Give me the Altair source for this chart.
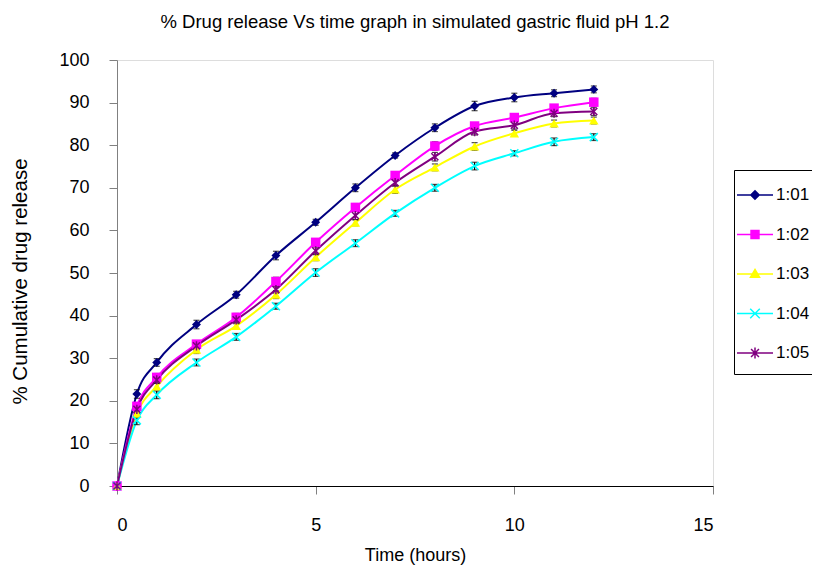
import altair as alt
import pandas as pd

time_h = [0, 0.5, 1, 2, 3, 4, 5, 6, 7, 8, 9, 10, 11, 12]
series_names = ["1:01", "1:02", "1:03", "1:04", "1:05"]

rel_101 = [0, 21.6, 29.0, 37.9, 44.9, 54.1, 61.9, 70.0, 77.6, 84.1, 89.2, 91.2, 92.2, 93.1]
rel_102 = [0, 18.7, 25.5, 33.3, 39.6, 48.0, 57.2, 65.4, 72.9, 79.8, 84.5, 86.5, 88.7, 90.1]
rel_103 = [0, 17.0, 23.4, 32.0, 37.6, 44.9, 53.7, 61.8, 69.6, 74.8, 79.7, 82.8, 85.1, 85.8]
rel_104 = [0, 15.4, 21.4, 29.0, 35.0, 42.2, 50.1, 57.0, 64.0, 70.0, 75.1, 78.1, 80.8, 81.9]
rel_105 = [0, 18.0, 24.9, 32.9, 39.0, 46.1, 55.2, 63.5, 71.2, 77.3, 83.2, 84.7, 87.5, 87.9]

err_101 = [0, 1.0, 0.9, 1.0, 0.8, 1.0, 0.7, 0.9, 0.6, 0.9, 1.1, 1.0, 0.8, 0.8]
err_102 = [0, 0.8, 0.9, 0.8, 0.9, 1.0, 0.8, 0.9, 0.8, 1.0, 0.7, 0.9, 0.8, 0.9]
err_103 = [0, 0.9, 0.8, 0.9, 0.8, 0.9, 0.8, 0.7, 0.9, 0.8, 0.9, 0.7, 0.8, 0.8]
err_104 = [0, 1.0, 0.9, 0.8, 0.8, 0.7, 0.9, 0.8, 0.7, 0.8, 0.9, 0.6, 0.9, 0.8]
err_105 = [0, 0.9, 0.8, 1.0, 0.9, 0.8, 0.9, 1.0, 0.8, 1.0, 0.8, 0.9, 0.8, 0.9]

colors = ["#000080", "#FF00FF", "#FFFF00", "#00FFFF", "#800080"]

title_text = "% Drug release Vs time graph in simulated gastric fluid pH 1.2"
x_title = "Time (hours)"
y_title = "% Cumulative drug release"
x_ticks = [0, 5, 10, 15]
y_ticks = [0, 10, 20, 30, 40, 50, 60, 70, 80, 90, 100]

FONT = "Liberation Sans"

rels = [rel_101, rel_102, rel_103, rel_104, rel_105]
errs = [err_101, err_102, err_103, err_104, err_105]
rows = []
for name, rv, ev in zip(series_names, rels, errs):
    for t, v, e in zip(time_h, rv, ev):
        rows.append({"series": name, "t": t, "v": v, "err": e, "lo": v - e, "hi": v + e})
df = pd.DataFrame(rows)
df_err = df[df["err"] > 0]

xscale = alt.Scale(domain=[0, 15], nice=False, zero=False)
yscale = alt.Scale(domain=[0, 100], nice=False)

xaxis = alt.Axis(values=x_ticks, title=x_title, grid=False, domainColor="#000000",
                 domainWidth=1, tickColor="#808080", tickSize=8, tickWidth=1,
                 labelPadding=22, labelFontSize=18, labelFont=FONT, labelColor="#000000",
                 titleFontSize=18, titleFont=FONT, titleFontWeight="normal",
                 titleColor="#000000", titleBaseline="middle", titleY=69)
yaxis = alt.Axis(values=y_ticks, title=y_title, grid=False, domainColor="#808080",
                 domainWidth=1, tickColor="#808080", tickSize=8, tickWidth=1,
                 labelPadding=20, labelFontSize=18, labelFont=FONT, labelColor="#000000",
                 titleFontSize=20.5, titleFont=FONT, titleFontWeight="normal",
                 titleColor="#000000", titleBaseline="middle", titleX=-97, titleY=221)

X = alt.X("t:Q", scale=xscale, axis=xaxis)
Y = alt.Y("v:Q", scale=yscale, axis=yaxis)
Xn = alt.X("t:Q", scale=xscale)

line_layers = []
for name, col in zip(series_names, colors):
    line_layers.append(
        alt.Chart(df[df["series"] == name]).mark_line(
            strokeWidth=2, interpolate="monotone", color=col
        ).encode(x=X, y=Y)
    )

err_base = alt.Chart(df_err)
err_rules = err_base.mark_rule(color="#000000", strokeWidth=1.2).encode(
    x=Xn, y=alt.Y("lo:Q", scale=yscale), y2="hi:Q")
err_lo = err_base.mark_tick(color="#000000", orient="horizontal", size=6, thickness=1.2).encode(
    x=Xn, y=alt.Y("lo:Q", scale=yscale))
err_hi = err_base.mark_tick(color="#000000", orient="horizontal", size=6, thickness=1.2).encode(
    x=Xn, y=alt.Y("hi:Q", scale=yscale))

marker_specs = [
    ("diamond", 80, True, 1),
    ("square", 90, True, 1),
    ("triangle-up", 90, True, 1),
    ("M-1,-1L1,1M-1,1L1,-1", 64, False, 1.5),
    ("M-1,-1L1,1M-1,1L1,-1M0,-1.3V1.3", 50, False, 1.5),
]
marker_layers = []
for name, col, (shp, sz, fl, sw) in zip(series_names, colors, marker_specs):
    marker_layers.append(
        alt.Chart(df[df["series"] == name]).mark_point(
            shape=shp, size=sz, filled=fl, color=col, strokeWidth=sw, opacity=1
        ).encode(x=Xn, y=alt.Y("v:Q", scale=yscale))
    )

legend_paths = [
    "M-1.5,0H1.5M0,-0.35L0.35,0L0,0.35L-0.35,0Z",
    "M-1.5,0H1.5M-0.33,-0.33H0.33V0.33H-0.33Z",
    "M-1.5,0H1.5M0,-0.38L0.38,0.28L-0.38,0.28Z",
    "M-1.5,0H1.5M-0.4,-0.4L0.4,0.4M-0.4,0.4L0.4,-0.4",
    "M-1.5,0H1.5M-0.33,-0.33L0.33,0.33M-0.33,0.33L0.33,-0.33M0,-0.45V0.45",
]
leg_df = pd.DataFrame({"series": series_names, "t": [None] * 5, "v": [None] * 5})


def mk_legend():
    return alt.Legend(
        title=None, orient="none", legendX=617, legendY=110, direction="vertical",
        symbolSize=576, symbolStrokeWidth=1.5, symbolOffset=-4,
        labelFontSize=17, labelFont=FONT, labelColor="#000000", labelOffset=8,
        padding=12, rowPadding=18.5, strokeColor="#000000", fillColor="#FFFFFF",
    )


legend_layer = alt.Chart(leg_df).mark_point(filled=True, opacity=1).encode(
    x=Xn,
    y=alt.Y("v:Q", scale=yscale),
    fill=alt.Fill("series:N", scale=alt.Scale(domain=series_names, range=colors), legend=mk_legend()),
    stroke=alt.Stroke("series:N", scale=alt.Scale(domain=series_names, range=colors), legend=mk_legend()),
    shape=alt.Shape("series:N", scale=alt.Scale(domain=series_names, range=legend_paths), legend=mk_legend()),
)

chart = alt.layer(*line_layers, err_rules, err_lo, err_hi, *marker_layers, legend_layer).properties(
    width=596, height=426,
    padding={"left": 109, "top": 52, "right": 99, "bottom": 80},
    autosize=alt.AutoSizeParams(type="none"),
    title=alt.TitleParams(text=title_text, fontSize=18.5, font=FONT, fontWeight="normal",
                          color="#000000", anchor="middle", offset=20),
).configure_view(strokeWidth=0).configure(background="#FFFFFF")

chart.save("out.html", embed_options={"renderer": "svg", "actions": False})
